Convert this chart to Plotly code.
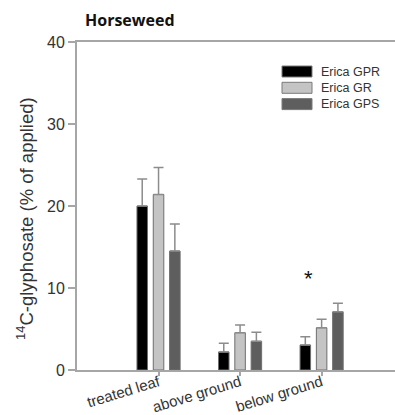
import plotly.graph_objects as go

# Tissue compartments on the x axis
categories = ["treated leaf", "above ground", "below ground"]

# Series: 14C-glyphosate recovered (% of applied), mean and upper SE
series_names = ["Erica GPR", "Erica GR", "Erica GPS"]
gpr_mean = [20.0, 2.2, 3.05]
gpr_err = [3.3, 1.05, 1.0]
gr_mean = [21.4, 4.55, 5.15]
gr_err = [3.3, 0.95, 1.05]
gps_mean = [14.5, 3.5, 7.1]
gps_err = [3.3, 1.1, 1.05]

y_ticks = [0, 10, 20, 30, 40]

fill_colors = ["#000000", "#c4c4c4", "#5e5e5e"]
means = [gpr_mean, gr_mean, gps_mean]
errs = [gpr_err, gr_err, gps_err]

font_family = "Arial, Liberation Sans, sans-serif"
axis_gray = "#a6a6a6"

# Plot area in pixels
L, R, T, B = 77, 395, 42, 370

fig = go.Figure()
for name, m, e, c in zip(series_names, means, errs, fill_colors):
    fig.add_trace(go.Bar(
        x=categories, y=m, name=name,
        marker=dict(color=c, line=dict(color="#6e6e6e", width=1)),
        error_y=dict(type="data", array=e, symmetric=False,
                     arrayminus=[0] * len(e),
                     color="#8c8c8c", thickness=1.5, width=5),
        showlegend=False,
    ))

# Legend drawn as wide swatches with labels
legend_top = 66
for i, (name, c) in enumerate(zip(series_names, fill_colors)):
    y0 = legend_top + i * 16.3
    fig.add_shape(type="rect", xref="paper", yref="paper",
                  x0=(282 - L) / (R - L), x1=(312 - L) / (R - L),
                  y0=(B - y0) / (B - T), y1=(B - (y0 + 11)) / (B - T),
                  fillcolor=c, line=dict(color="#7a7a7a", width=1))
    fig.add_annotation(xref="paper", yref="paper",
                       x=(319 - L) / (R - L), y=(B - (y0 + 5.5)) / (B - T),
                       text=name, showarrow=False, xanchor="left",
                       yanchor="middle",
                       font=dict(family=font_family, size=12.5, color="#333333"))

# Y axis title
fig.add_annotation(xref="paper", yref="paper",
                   x=(25 - L) / (R - L), y=(B - 219) / (B - T),
                   text="<sup>14</sup>C-glyphosate (% of applied)",
                   textangle=-90, showarrow=False,
                   xanchor="center", yanchor="middle",
                   font=dict(family=font_family, size=18.5, color="#333333"))

# Significance marker over the below-ground group
fig.add_annotation(x="below ground", y=11.9, text="*", showarrow=False,
                   xshift=-13, yshift=-6, yanchor="middle",
                   font=dict(family=font_family, size=22, color="#111111"))

fig.update_layout(
    width=395, height=415,
    margin=dict(l=L, r=395 - R, t=T, b=415 - B),
    paper_bgcolor="white", plot_bgcolor="white",
    barmode="group", bargap=0.4, bargroupgap=0.355,
    title=dict(text="<b>Horseweed</b>", x=85 / 395, xanchor="left",
               y=1 - 20 / 415, yanchor="middle",
               font=dict(family="Open Sans, sans-serif", size=16, color="#111111")),
    font=dict(family=font_family, color="#333333"),
)

fig.update_xaxes(
    range=[-1, 2.9], showline=True, linecolor=axis_gray, linewidth=2,
    mirror=True, ticks="outside", ticklen=4, tickcolor=axis_gray,
    tickwidth=1.5, tickangle=-17, showgrid=False, zeroline=False,
    automargin=False, ticklabelstandoff=-8,
    tickfont=dict(family=font_family, size=15, color="#333333"),
)
fig.update_yaxes(
    range=[0, 40], tickvals=y_ticks, showline=True, linecolor=axis_gray,
    linewidth=2, ticks="outside", ticklen=7, tickcolor=axis_gray,
    tickwidth=1.5, showgrid=False, zeroline=False, automargin=False,
    tickfont=dict(family=font_family, size=16, color="#333333"),
)

fig.write_html("out.html")
